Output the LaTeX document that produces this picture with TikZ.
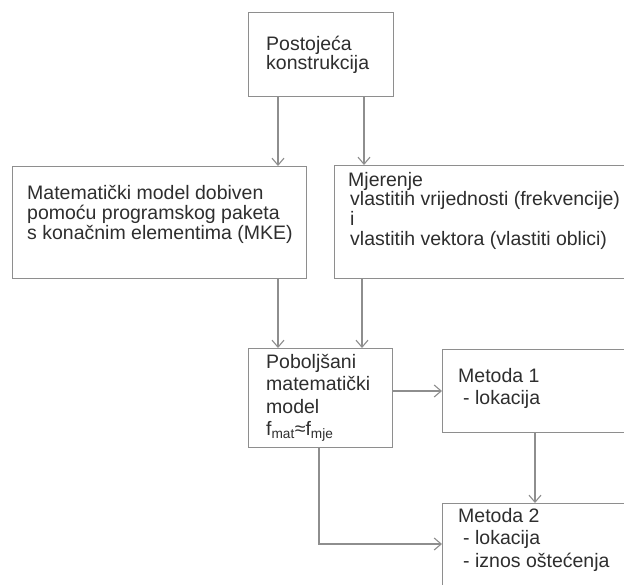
\documentclass[tikz,border=0pt]{standalone}
\usepackage{fontspec}
\setmainfont{Liberation Sans}
\usetikzlibrary{arrows.meta}
\definecolor{linegray}{HTML}{8E8E8E}
\definecolor{textgray}{HTML}{2E2E2E}
\tikzset{
  box/.style={draw=linegray, line width=1.2pt, rectangle, inner sep=0pt, anchor=north west},
  arr/.style={draw=linegray, line width=1.1pt, -{Straight Barb[length=7pt,width=12pt]}},
  txt/.style={anchor=base west, inner sep=0pt, text=textgray},
  tight/.style={font=\fontsize{19.5}{19.5}\selectfont},
  loose/.style={font=\fontsize{19.5}{22.5}\selectfont}
}
\begin{document}
\begin{tikzpicture}[x=1pt,y=-1pt]
\useasboundingbox (0,0) rectangle (624,584);
\fill[white] (0,0) rectangle (624,584);
\clip (0,0) rectangle (624,584);
% boxes
\node[box, minimum width=145pt, minimum height=84pt] (top) at (248,12) {};
\node[box, minimum width=294pt, minimum height=112pt] (left) at (12,166) {};
\node[box, minimum width=300pt, minimum height=113pt] (mid) at (334,165) {};
\node[box, minimum width=144pt, minimum height=99pt] (pob) at (248,348) {};
\node[box, minimum width=200pt, minimum height=83pt] (m1) at (442,349) {};
\node[box, minimum width=200pt, minimum height=110pt] (m2) at (442,503) {};
% texts
\node[txt, tight] (topT) at (266,50) {\begin{tabular}[t]{@{}l@{}}Postojeća\\konstrukcija\end{tabular}};
\node[txt, tight] (leftT) at (27,199) {\begin{tabular}[t]{@{}l@{}}Matematički model dobiven\\pomoću programskog paketa\\s konačnim elementima (MKE)\end{tabular}};
\node[txt, tight] (midT) at (348,186) {\begin{tabular}[t]{@{}l@{}}Mjerenje\\\hspace{2pt}vlastitih vrijednosti (frekvencije)\\\hspace{2pt}i\\\hspace{2pt}vlastitih vektora (vlastiti oblici)\end{tabular}};
\node[txt, loose] (pobT) at (266,368) {\begin{tabular}[t]{@{}l@{}}Poboljšani\\matematički\\model\\f\textsubscript{mat}≈f\textsubscript{mje}\end{tabular}};
\node[txt, loose] (m1T) at (458,382) {\begin{tabular}[t]{@{}l@{}}Metoda 1\\\hspace{5pt}- lokacija\end{tabular}};
\node[txt, loose] (m2T) at (458,522) {\begin{tabular}[t]{@{}l@{}}Metoda 2\\\hspace{5pt}- lokacija\\\hspace{5pt}- iznos oštećenja\end{tabular}};
% connectors
\draw[arr] ([xshift=30pt]top.south west) -- ([xshift=30pt]top.south west |- left.north);
\draw[arr] ([xshift=116pt]top.south west) -- ([xshift=116pt]top.south west |- mid.north);
\draw[arr] ([xshift=266pt]left.south west) -- ([xshift=266pt]left.south west |- pob.north);
\draw[arr] ([xshift=28pt]mid.south west) -- ([xshift=28pt]mid.south west |- pob.north);
\draw[arr] ([yshift=-43pt]pob.north east) -- ([yshift=-43pt]pob.north east -| m1.west);
\draw[arr] ([xshift=93pt]m1.south west) -- ([xshift=93pt]m1.south west |- m2.north);
\draw[arr] ([xshift=71pt]pob.south west) |- ([yshift=-41pt]m2.north west);
\end{tikzpicture}
\end{document}
